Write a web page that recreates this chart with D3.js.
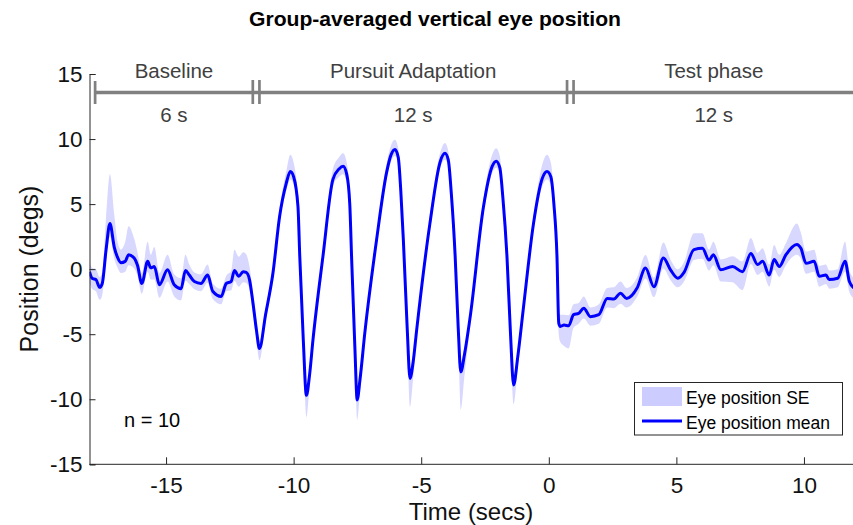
<!DOCTYPE html>
<html><head><meta charset="utf-8">
<script src="https://cdn.jsdelivr.net/npm/d3@7"></script>
<style>body{margin:0;background:#fff}svg{display:block}text{font-family:"Liberation Sans",Arial,sans-serif}</style>
</head><body>
<svg id="chart" width="853" height="525"></svg>
<script>
const time = [-18.00,-17.90,-17.75,-17.60,-17.50,-17.35,-17.20,-17.03,-16.90,-16.77,-16.60,-16.47,-16.25,-16.12,-15.95,-15.72,-15.60,-15.46,-15.26,-14.94,-14.68,-14.41,-14.24,-14.09,-13.89,-13.63,-13.37,-13.17,-12.84,-12.64,-12.45,-12.32,-12.15,-11.98,-11.86,-11.73,-11.60,-11.45,-11.34,-11.10,-10.81,-10.55,-10.29,-10.13,-10.00,-9.83,-9.76,-9.62,-9.50,-9.38,-9.24,-8.85,-8.46,-8.22,-8.06,-7.92,-7.80,-7.73,-7.60,-7.51,-7.40,-7.21,-6.75,-6.36,-6.18,-6.03,-5.90,-5.80,-5.70,-5.55,-5.44,-5.32,-5.18,-4.66,-4.25,-4.07,-3.94,-3.82,-3.67,-3.55,-3.45,-3.30,-3.08,-2.56,-2.22,-2.06,-1.92,-1.80,-1.64,-1.50,-1.38,-1.22,-0.99,-0.60,-0.25,-0.07,0.08,0.20,0.32,0.39,0.45,0.60,0.78,0.97,1.17,1.37,1.63,1.96,2.29,2.55,2.81,3.05,3.46,3.79,4.12,4.49,4.77,5.06,5.30,5.69,6.02,6.28,6.45,6.74,7.20,7.59,7.92,8.18,8.38,8.64,8.83,9.03,9.29,9.72,9.88,10.08,10.40,10.60,10.86,10.99,11.32,11.61,11.78,11.96];
const meanPos = [-0.2,-0.7,-0.8,-1.4,-1.1,1.5,3.5,1.7,0.9,0.5,0.6,1.1,0.85,0.3,-1.1,0.6,0.1,0.2,-1.2,-0.05,-1.2,-1.5,-0.1,-0.45,-0.95,-1.1,-0.45,-1.7,-2.1,-1.1,-0.95,-0.1,-0.55,-0.2,-0.25,-0.8,-2.5,-4.8,-6.1,-3.5,-0.3,4.05,6.6,7.5,7.1,4.8,1.0,-5.5,-9.7,-8.2,-5.4,1.0,6.9,7.7,7.9,7.3,5.0,1.0,-6.0,-10.05,-8.5,-4.9,2.25,7.4,8.8,9.2,8.6,6.0,2.25,-4.5,-8.4,-7.2,-4.7,3.5,8.3,8.9,8.4,5.8,1.0,-4.5,-7.9,-6.5,-3.65,4.8,7.9,8.3,7.8,5.5,1.0,-5.0,-8.9,-6.8,-2.9,3.5,7.0,7.5,7.1,5.0,1.0,-4.15,-4.4,-4.3,-4.35,-3.5,-3.4,-3.0,-3.65,-3.5,-2.25,-2.3,-1.85,-2.25,-1.45,0.08,-1.35,0.85,-0.05,-0.7,-0.25,1.5,1.6,0.7,1.1,-0.05,0.2,-0.2,1.2,0.35,0.6,-0.45,0.75,0.2,1.1,1.9,1.6,0.45,0.6,-0.55,-0.45,-0.8,-0.7,0.6,-0.95,-1.45];
const seUpper = [0.8,0.8,0.8,0.8,0.9,2.5,3.8,2.5,1.2,1.0,1.5,2.2,1.5,1.0,0.8,1.5,1.0,1.5,0.9,1.15,0.8,0.8,1.2,0.8,0.7,0.7,0.8,0.6,0.6,0.6,0.8,1.6,1.5,1.5,1.4,1.0,0.8,0.7,0.6,0.5,0.5,0.6,0.9,1.3,1.1,0.6,0.5,0.6,0.7,0.6,0.5,0.5,0.8,0.9,1.0,0.9,0.6,0.5,0.6,0.7,0.6,0.5,0.5,0.7,0.75,0.75,0.7,0.6,0.5,0.6,0.8,0.6,0.5,0.5,0.7,0.8,0.7,0.6,0.5,0.6,0.8,0.6,0.5,0.6,0.9,1.0,0.9,0.6,0.5,0.6,0.8,0.6,0.5,0.6,1.1,1.3,1.1,0.8,0.6,0.8,0.9,0.8,0.8,0.8,0.8,0.9,0.7,0.8,0.8,0.9,0.9,0.8,0.8,1.0,0.7,1.2,0.8,0.7,0.8,1.25,1.15,0.8,1.0,0.8,0.8,0.8,1.2,0.9,1.0,0.8,1.1,0.9,0.9,1.6,1.2,0.9,0.9,0.8,0.8,0.7,0.7,1.5,0.8,0.8];
const seLower = [0.8,0.8,0.9,0.95,0.9,0.9,1.0,0.9,0.8,0.8,0.8,0.8,0.8,0.8,0.8,0.8,0.9,1.0,1.0,0.9,0.9,0.9,0.8,0.7,0.6,0.6,0.6,0.6,0.6,0.6,0.7,0.8,0.8,0.8,0.8,0.8,0.8,0.8,0.9,0.6,0.5,0.5,0.6,0.6,0.6,0.6,0.5,0.8,1.7,1.0,0.6,0.5,0.5,0.6,0.6,0.6,0.6,0.5,0.8,1.55,1.0,0.6,0.5,0.5,0.5,0.5,0.5,0.5,0.5,0.9,2.2,1.3,0.7,0.5,0.5,0.5,0.5,0.5,0.5,1.0,2.9,1.6,0.7,0.5,0.5,0.5,0.5,0.5,0.5,0.9,1.5,0.9,0.6,0.5,0.6,0.6,0.6,0.6,0.6,0.9,1.2,1.6,1.75,1.0,0.8,0.8,0.7,0.7,0.7,0.7,0.8,0.7,0.7,0.8,0.8,0.8,0.8,0.7,0.7,0.8,0.8,0.8,0.8,0.9,1.2,1.4,0.8,0.8,0.8,0.9,0.8,0.8,0.8,0.8,0.8,0.8,0.8,0.8,0.7,0.7,0.7,0.8,0.8,0.8];
const xTicks = [-15,-10,-5,0,5,10];
const yTicks = [-15,-10,-5,0,5,10,15];
const phaseNames = ["Baseline","Pursuit Adaptation","Test phase"];
const phaseDurations = ["6 s","12 s","12 s"];
const phaseStarts = [-17.78,-11.34,0.97];
const phaseEnds = [-11.6,0.715,12.97];
const legendLabels = ["Eye position SE","Eye position mean"];

const svg = d3.select("#chart");
const x = d3.scaleLinear().domain([-18,12]).range([89.5,855]);
const y = d3.scaleLinear().domain([-15,15]).range([464.3,74]);
const data = time.map((t,i)=>({t, m:meanPos[i], hi:meanPos[i]+seUpper[i], lo:meanPos[i]-seLower[i]}));

svg.append("defs").append("clipPath").attr("id","plotclip")
  .append("rect").attr("x",89.5).attr("y",60).attr("width",853-89.5).attr("height",404.3);

const plot = svg.append("g").attr("clip-path","url(#plotclip)");
plot.append("path").datum(data)
  .attr("fill","#d8d8ff").attr("stroke","none")
  .attr("d", d3.area().x(d=>x(d.t)).y0(d=>y(d.lo)).y1(d=>y(d.hi)).curve(d3.curveMonotoneX));
plot.append("path").datum(data)
  .attr("fill","none").attr("stroke","#0000ff").attr("stroke-width",3).attr("stroke-linejoin","round")
  .attr("d", d3.line().x(d=>x(d.t)).y(d=>y(d.m)).curve(d3.curveMonotoneX));

// axes
const axisColor = "#262626";
const xAxis = svg.append("g").attr("transform",`translate(0,${y(-15)})`)
  .call(d3.axisBottom(x).tickValues(xTicks).tickSize(-7).tickPadding(13).tickFormat(d3.format("d")));
xAxis.select(".domain").attr("d",`M${x(-18)},0H853`);
const yAxis = svg.append("g").attr("transform",`translate(${x(-18)},0)`)
  .call(d3.axisLeft(y).tickValues(yTicks).tickSize(-6).tickPadding(7).tickFormat(d3.format("d")));
[xAxis,yAxis].forEach(a=>{
  a.selectAll("path,line").attr("stroke",axisColor).attr("stroke-width",1);
  a.selectAll("text").attr("fill","#111").style("font-size","22.5px").style("font-family","'Liberation Sans',Arial,sans-serif");
});
xAxis.selectAll("text").text(d=>d<0?"-"+Math.abs(d):d);
yAxis.selectAll("text").text(d=>d<0?"-"+Math.abs(d):d);

// axis labels
svg.append("text").attr("x",471).attr("y",520).attr("text-anchor","middle")
  .style("font-size","24px").attr("fill","#111").text("Time (secs)");
svg.append("text").attr("transform","translate(38,269) rotate(-90)").attr("text-anchor","middle")
  .style("font-size","25px").attr("fill","#111").text("Position (degs)");

// title
svg.append("text").attr("x",435).attr("y",26).attr("text-anchor","middle")
  .style("font-size","20.5px").style("font-weight","bold").attr("fill","#000")
  .attr("textLength",372).attr("lengthAdjust","spacingAndGlyphs")
  .text("Group-averaged vertical eye position");

// phase annotation
const gray = "#808080";
const ann = svg.append("g");
const lineY = 92.5;
ann.append("line").attr("x1",x(phaseStarts[0])).attr("x2",853).attr("y1",lineY).attr("y2",lineY)
  .attr("stroke",gray).attr("stroke-width",3.3);
ann.append("line").attr("x1",x(phaseStarts[0])).attr("x2",x(phaseStarts[0])).attr("y1",81).attr("y2",104)
  .attr("stroke",gray).attr("stroke-width",2.7);
phaseEnds.slice(0,2).forEach((e,i)=>{
  [e, phaseStarts[i+1]].forEach(v=>{
    ann.append("line").attr("x1",x(v)).attr("x2",x(v)).attr("y1",80).attr("y2",104)
      .attr("stroke",gray).attr("stroke-width",2.7);
  });
});
phaseNames.forEach((n,i)=>{
  const cx = x((phaseStarts[i]+Math.min(phaseEnds[i],11.96))/2);
  ann.append("text").attr("x",cx).attr("y",78).attr("text-anchor","middle")
    .style("font-size","20.5px").attr("fill","#404040").text(n);
  ann.append("text").attr("x",cx).attr("y",122).attr("text-anchor","middle")
    .style("font-size","20.5px").attr("fill","#404040").text(phaseDurations[i]);
});

// n label
svg.append("text").attr("x",124).attr("y",427).style("font-size","20px").attr("fill","#000").text("n = 10");

// legend
const lg = svg.append("g");
lg.append("rect").attr("x",634.5).attr("y",382.5).attr("width",208).attr("height",52.5)
  .attr("fill","#fff").attr("stroke","#262626").attr("stroke-width",1);
lg.append("rect").attr("x",642).attr("y",387).attr("width",40).attr("height",19).attr("fill","#ccccff");
lg.append("line").attr("x1",642).attr("x2",682).attr("y1",421).attr("y2",421).attr("stroke","#0000ff").attr("stroke-width",3);
legendLabels.forEach((l,i)=>{
  lg.append("text").attr("x",686).attr("y",404+i*25).style("font-size","17.5px").attr("fill","#000").text(l);
});
</script>
</body></html>
